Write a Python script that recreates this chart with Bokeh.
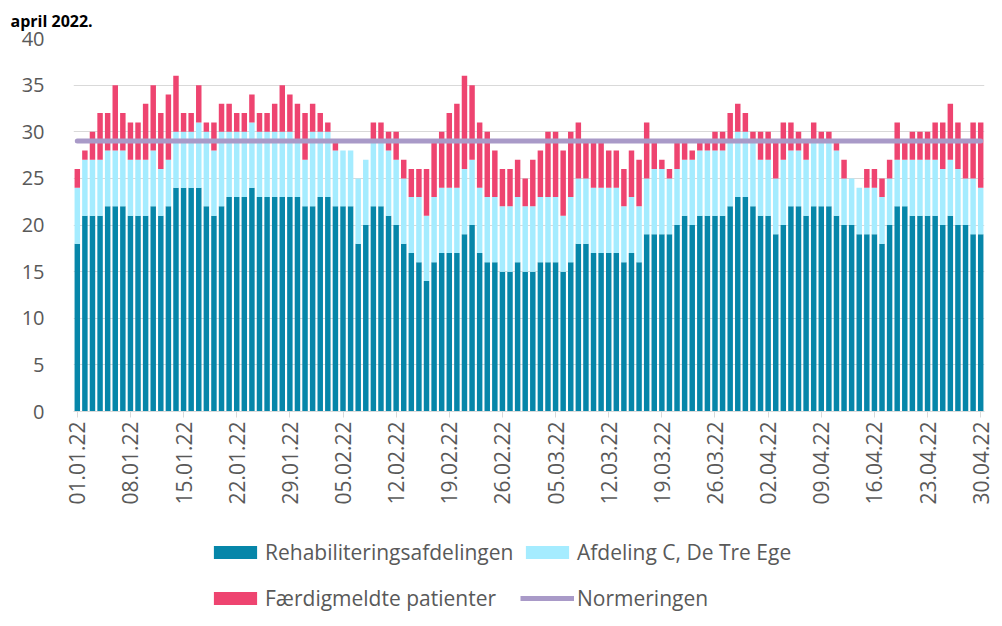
import math
import pandas as pd
from bokeh.plotting import figure
from bokeh.layouts import column
from bokeh.models import ColumnDataSource, FixedTicker, Legend, LegendItem, Range1d
from bokeh.embed import file_html
from bokeh.resources import INLINE

dates = list(pd.date_range("2022-01-01", "2022-04-30").strftime("%d.%m.%y"))

rehab = [18,21,21,21,22,22,22,21,21,21,
         22,21,22,24,24,24,24,22,21,22,
         23,23,23,24,23,23,23,23,23,23,
         22,22,23,23,22,22,22,18,20,22,
         22,21,20,18,17,16,14,16,17,17,
         17,19,20,17,16,16,15,15,16,15,
         15,16,16,16,15,16,18,18,17,17,
         17,17,16,17,16,19,19,19,19,20,
         21,20,21,21,21,21,22,23,23,22,
         21,21,19,20,22,22,21,22,22,22,
         21,20,20,19,19,19,18,20,22,22,
         21,21,21,21,20,21,20,20,19,19]

afd_c = [6,6,6,6,6,6,6,6,6,6,
         6,5,5,6,6,6,7,8,7,8,
         7,7,7,7,7,7,7,7,7,6,
         5,8,7,7,6,6,6,7,7,7,
         7,7,7,7,6,7,7,7,7,7,
         7,7,7,7,7,7,7,7,7,7,
         7,7,7,7,6,7,7,7,7,7,
         7,7,6,6,6,6,7,7,6,6,
         6,7,7,7,7,7,7,7,7,7,
         6,6,6,7,6,6,6,7,7,7,
         7,5,5,5,5,5,5,5,5,5,
         6,6,6,6,6,6,6,5,6,5]

faerd = [2,1,3,5,4,7,4,4,4,6,
         7,6,7,6,2,2,4,1,3,3,
         3,2,2,3,2,2,3,5,4,4,
         5,3,2,1,1,0,0,0,0,2,
         2,2,3,2,3,3,5,6,6,8,
         9,10,8,7,7,5,4,4,4,3,
         5,5,7,7,7,7,6,4,5,5,
         4,4,4,5,5,6,3,1,1,3,
         2,1,1,1,2,2,3,3,2,1,
         3,3,4,4,3,2,2,2,1,1,
         1,2,0,0,2,2,2,2,4,2,
         3,3,3,4,5,6,5,4,6,7]

norm_value = 29
tick_labels = ["01.01.22", "08.01.22", "15.01.22", "22.01.22", "29.01.22", "05.02.22",
               "12.02.22", "19.02.22", "26.02.22", "05.03.22", "12.03.22", "19.03.22",
               "26.03.22", "02.04.22", "09.04.22", "16.04.22", "23.04.22", "30.04.22"]
y_ticks = [0, 5, 10, 15, 20, 25, 30, 35, 40]
series_names = ["Rehabiliteringsafdelingen", "Afdeling C, De Tre Ege",
                "Færdigmeldte patienter", "Normeringen"]
colors = ["#0686A9", "#A5ECFF", "#EE4470", "#A99AC8"]
title_text = "april 2022."

x = list(range(len(dates)))
src = ColumnDataSource(dict(x=x, rehab=rehab, afd=afd_c, faerd=faerd,
                            norm=[norm_value] * len(dates)))

FONT = "Open Sans"
GRAY = "#595959"
W = 994
H1 = 520
H2 = 98
LEFT = 73
RIGHT = 10

p = figure(width=W, height=H1, output_backend="svg", toolbar_location=None,
           x_range=Range1d(-0.5, len(dates) - 0.5), y_range=Range1d(0, 40),
           min_border_left=LEFT, min_border_right=RIGHT, min_border_top=38,
           min_border_bottom=109)
p.outline_line_color = None
p.background_fill_color = "white"
p.border_fill_color = "white"

p.title.text = title_text
p.title.text_font = FONT
p.title.text_font_size = "16px"
p.title.text_font_style = "bold"
p.title.text_color = "black"
p.title.align = "left"
p.title.offset = -(LEFT - 10)
p.title.standoff = 13

r = p.vbar_stack(["rehab", "afd", "faerd"], x="x", width=0.72, source=src,
                 color=colors[:3], line_color=None)
p.line("x", "norm", source=src, line_color=colors[3], line_width=5, line_cap="round")

p.xgrid.grid_line_color = None
p.ygrid.grid_line_color = "#d9d9d9"
p.ygrid.grid_line_width = 1
p.ygrid.ticker = FixedTicker(ticks=y_ticks)

p.yaxis.ticker = FixedTicker(ticks=y_ticks)
p.yaxis.axis_line_color = None
p.yaxis.major_tick_line_color = None
p.yaxis.minor_tick_line_color = None
p.yaxis.major_label_standoff = 23
p.yaxis.major_label_text_font = FONT
p.yaxis.major_label_text_font_size = "20px"
p.yaxis.major_label_text_color = GRAY

tick_pos = [dates.index(t) for t in tick_labels]
p.xaxis.ticker = FixedTicker(ticks=tick_pos)
p.xaxis.major_label_overrides = {i: dates[i] for i in tick_pos}
p.xaxis.major_label_orientation = math.pi / 2
p.xaxis.axis_line_color = "#d9d9d9"
p.xaxis.major_tick_line_color = "#d9d9d9"
p.xaxis.major_tick_out = 6
p.xaxis.major_tick_in = 0
p.xaxis.minor_tick_line_color = None
p.xaxis.major_label_standoff = 4
p.xaxis.major_label_text_font = FONT
p.xaxis.major_label_text_font_size = "21px"
p.xaxis.major_label_text_color = GRAY

# legend figure below the chart (its frame is aligned with the chart's frame)
q = figure(width=W, height=H2, output_backend="svg", toolbar_location=None,
           x_range=Range1d(0, 10), y_range=Range1d(0, 10),
           min_border_left=LEFT, min_border_right=RIGHT,
           min_border_top=0, min_border_bottom=0)
q.axis.visible = False
q.grid.visible = False
q.outline_line_color = None
q.border_fill_color = "white"
lr = [q.vbar(x=[-100], top=[-100], bottom=[-101], width=1, color=c, line_color=None)
      for c in colors[:3]]
lr.append(q.line(x=[-100, -99], y=[-100, -100], line_color=colors[3], line_width=5))

pos = [(208, 52), (520, 52), (208, 6), (520, 6)]
for name, rend, (lx, ly) in zip(series_names, lr, pos):
    leg = Legend(items=[LegendItem(label=name, renderers=[rend])], location=(lx - LEFT, ly),
                 orientation="horizontal", padding=0, margin=0, spacing=0,
                 glyph_width=54, glyph_height=16, label_standoff=3, label_height=16,
                 label_text_font=FONT, label_text_font_size="21px",
                 label_text_color=GRAY, border_line_color=None,
                 background_fill_alpha=0)
    q.add_layout(leg, "center")

layout = column(p, q, spacing=0)
open("out.html", "w").write(file_html(layout, INLINE))
